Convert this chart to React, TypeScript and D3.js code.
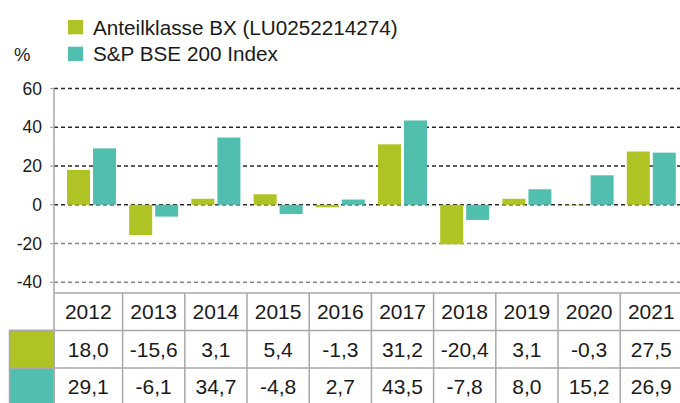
import React, { useEffect } from 'react';
import * as d3 from 'd3';

const years = ['2012', '2013', '2014', '2015', '2016', '2017', '2018', '2019', '2020', '2021'];
const fundValues = [18.0, -15.6, 3.1, 5.4, -1.3, 31.2, -20.4, 3.1, -0.3, 27.5];
const indexValues = [29.1, -6.1, 34.7, -4.8, 2.7, 43.5, -7.8, 8.0, 15.2, 26.9];
const seriesNames = ['Anteilklasse BX (LU0252214274)', 'S&P BSE 200 Index'];
const yTicks = [60, 40, 20, 0, -20, -40];

const colors = ['#b0c324', '#50bfae'];
const font = '"Liberation Sans", Arial, sans-serif';

const W = 680;
const H = 403;

export default function App() {
  useEffect(() => {
    document.body.style.margin = '0';
  }, []);

  const axisX = 54;
  const x = d3.scaleBand().domain(years).range([60.4, 682.4]).paddingInner(0).paddingOuter(0);
  const inner = d3.scaleBand().domain(['a', 'b']).range([6.6, 6.6 + 49]).paddingInner(3 / 26);
  const y = d3.scaleLinear().domain([-40, 60]).range([282.3, 88.5]);

  const tableTop = 293;
  const rowH = 37.5;
  const fmt = (v: number) => v.toFixed(1).replace('.', ',');
  const series = [fundValues, indexValues];
  const gray = '#a8a8a8';

  return (
    <svg width={W} height={H} style={{ display: 'block', fontFamily: font }}>
      <rect width={W} height={H} fill="#fff" />

      {/* legend */}
      {seriesNames.map((name, i) => (
        <g key={name} transform={`translate(0, ${i * 26.7})`}>
          <rect x={68} y={20} width={15} height={14.3} fill={colors[i]} />
          <text x={93} y={34.5} fontSize={20.7} fill="#1a1a1a">{name}</text>
        </g>
      ))}
      <text x={14} y={61} fontSize={18.5} fill="#1a1a1a">%</text>

      {/* grid */}
      {yTicks.map(t => (
        <g key={t}>
          <line x1={axisX} x2={W} y1={y(t)} y2={y(t)}
            stroke={t >= 0 ? '#2a2a2a' : '#858585'} strokeWidth={1.5} strokeDasharray="4 3" />
          <line x1={axisX - 4} x2={axisX} y1={y(t)} y2={y(t)} stroke={gray} strokeWidth={1.2} />
          <text x={42} y={y(t) + 6} fontSize={17.5} textAnchor="end" fill="#1a1a1a">{t}</text>
        </g>
      ))}
      <line x1={axisX} x2={axisX} y1={y(60)} y2={tableTop} stroke={gray} strokeWidth={1.5} />

      {/* bars */}
      {years.map((yr, i) => (
        <g key={yr} transform={`translate(${x(yr)}, 0)`}>
          {series.map((s, j) => {
            const v = s[i];
            return (
              <rect key={j} x={inner(j === 0 ? 'a' : 'b')} width={inner.bandwidth()}
                y={Math.min(y(v), y(0))} height={Math.abs(y(v) - y(0))} fill={colors[j]} />
            );
          })}
        </g>
      ))}

      {/* table */}
      <g>
        {series.map((_, j) => (
          <rect key={j} x={9.5} y={tableTop + rowH * (j + 1)} width={axisX - 9.5} height={rowH}
            fill={colors[j]} stroke={gray} strokeWidth={1.5} />
        ))}
        {[0, 1, 2, 3].map(r => (
          <line key={r} x1={r === 0 ? axisX : 9.5} x2={W} y1={tableTop + rowH * r} y2={tableTop + rowH * r}
            stroke={gray} strokeWidth={1.5} />
        ))}
        <line x1={axisX} x2={axisX} y1={tableTop} y2={H} stroke={gray} strokeWidth={1.5} />
        {years.slice(1).map(yr => (
          <line key={yr} x1={x(yr)} x2={x(yr)} y1={tableTop} y2={H} stroke={gray} strokeWidth={1.5} />
        ))}
        {years.map((yr, i) => {
          const cx0 = i === 0 ? axisX : (x(yr) as number);
          const cx1 = (x(yr) as number) + x.bandwidth();
          const cx = (cx0 + cx1) / 2;
          return (
            <g key={yr} fontSize={21} fill="#1a1a1a" textAnchor="middle">
              <text x={cx} y={tableTop + rowH * 0.5 + 7.5}>{yr}</text>
              <text x={cx} y={tableTop + rowH * 1.5 + 7.5}>{fmt(fundValues[i])}</text>
              <text x={cx} y={tableTop + rowH * 2.5 + 7.5}>{fmt(indexValues[i])}</text>
            </g>
          );
        })}
      </g>
    </svg>
  );
}
